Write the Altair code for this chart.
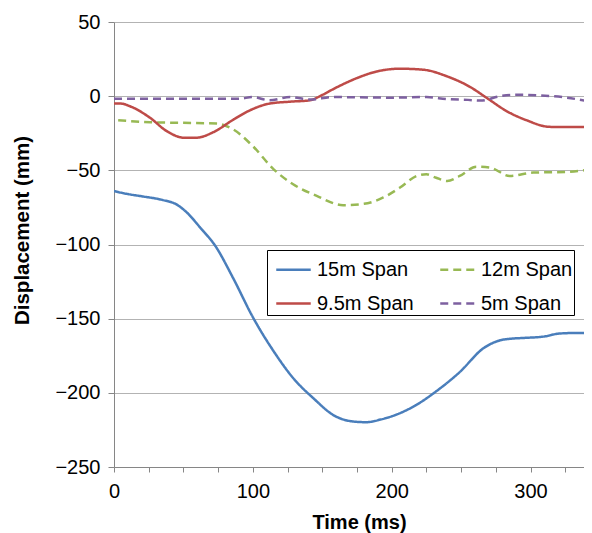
import altair as alt
import pandas as pd

series_names = ["15m Span", "9.5m Span", "12m Span", "5m Span"]
series_colors = ["#4A7EBB", "#BE4B48", "#98B954", "#7D60A0"]
series_dash = [[1, 0], [1, 0], [8, 5], [8, 5]]

t_15 = [0, 10, 20, 35, 45, 52, 62, 73, 86, 100, 115, 129, 144, 158, 172, 182, 192, 201, 210, 218, 232, 249, 266, 278, 286, 295, 310, 321, 336, 344]
d_15 = [-64, -66, -67.5, -70, -73, -78, -88.5, -101, -123, -149, -172, -190, -204, -215, -219.3, -219.8, -218, -215.5, -212, -208, -199, -186, -170, -164.6, -163.5, -163, -162, -160, -159.6, -160.7]

t_12 = [3, 26, 50, 74, 86, 100, 115, 129, 146, 165, 180, 194, 206, 218, 225, 232, 240, 249, 261, 271, 285, 302, 326, 344]
d_12 = [-16.2, -17.6, -18, -18.5, -22.5, -33.7, -49.3, -59.4, -67.2, -73.5, -72.6, -68.3, -61.6, -53.8, -52.7, -55, -57.2, -53.8, -47.5, -48.2, -53.8, -51.5, -51.1, -49.3]

t_95 = [0, 5, 11.5, 26, 38, 51, 59.6, 71.5, 86, 98, 112, 127, 141, 150, 158, 175, 189, 206, 223, 240, 256.5, 268.5, 283, 297, 314, 330, 344]
d_95 = [-5, -5, -6.8, -14.6, -23.6, -28.1, -28, -24.3, -15.8, -9.5, -5, -3.7, -2.8, 0.8, 4.8, 12.2, 16.6, 18.5, 17.8, 13.3, 6.2, -1.2, -10.2, -16.2, -20.7, -20.8, -20.7]

t_5 = [0, 30, 60, 90, 100, 112, 127, 141, 158, 177, 201, 225, 240, 255, 264, 278, 290, 307, 326, 344]
d_5 = [-1.7, -1.7, -1.7, -1.7, -0.6, -2.8, -0.6, -2.3, -0.6, -0.8, -1, -0.6, -2, -2.5, -3, 0, 1, 0.5, -1, -3.9]

x_ticks = [0, 25, 50, 75, 100, 125, 150, 175, 200, 225, 250, 275, 300, 325]
y_ticks = [50, 0, -50, -100, -150, -200, -250]

rows = []
for name, ts, ds in [("15m Span", t_15, d_15), ("12m Span", t_12, d_12),
                     ("9.5m Span", t_95, d_95), ("5m Span", t_5, d_5)]:
    for t, d in zip(ts, ds):
        rows.append({"series": name, "time": t, "disp": d})
df = pd.DataFrame(rows)

FONT = "Liberation Sans"

chart = alt.Chart(df).mark_line(strokeWidth=2.5, interpolate="monotone", clip=True).encode(
    x=alt.X("time:Q",
            scale=alt.Scale(domain=[0, 338.5], nice=False, zero=False),
            axis=alt.Axis(values=x_ticks, title="Time (ms)", grid=False,
                          labelExpr="datum.value % 100 === 0 ? datum.label : ''",
                          tickSize=5, labelPadding=9, labelFontSize=20,
                          titleFontSize=20, titleFontWeight="bold",
                          titleX=245, titleY=61, titleBaseline="alphabetic",
                          labelFlush=False)),
    y=alt.Y("disp:Q",
            scale=alt.Scale(domain=[-250, 50], nice=False, zero=False),
            axis=alt.Axis(values=y_ticks, title="Displacement (mm)", grid=True,
                          tickSize=6, labelPadding=8, labelFontSize=20,
                          titleFontSize=20.5, titleFontWeight="bold",
                          titleX=-92, titleY=208, titleBaseline="middle",
                          titleAngle=-90)),
    color=alt.Color("series:N",
                    scale=alt.Scale(domain=series_names, range=series_colors),
                    sort=series_names,
                    legend=alt.Legend(orient="none", legendX=153, legendY=228,
                                      columns=2, title=None, symbolType="stroke",
                                      symbolSize=1190, symbolStrokeWidth=2.5,
                                      labelFontSize=20, strokeColor="black",
                                      fillColor="white", padding=1,
                                      rowPadding=5, columnPadding=18,
                                      labelOffset=5, symbolOffset=7)),
    strokeDash=alt.StrokeDash("series:N",
                              scale=alt.Scale(domain=series_names, range=series_dash),
                              sort=series_names,
                              legend=alt.Legend(orient="none", legendX=153, legendY=228,
                                                columns=2, title=None)),
    detail="series:N",
).properties(
    width=470,
    height=445,
    autosize=alt.AutoSizeParams(type="none"),
    padding={"left": 106, "top": 14, "right": 0, "bottom": 66},
).configure_view(
    stroke=None
).configure_axis(
    labelFont=FONT, titleFont=FONT, labelColor="black", titleColor="black",
    domainColor="#868686", tickColor="#868686", gridColor="#B3B3B3",
    domainWidth=1, tickWidth=1, gridWidth=1
).configure_legend(
    labelFont=FONT, labelColor="black"
)

chart.save("out.html", embed_options={"renderer": "svg", "actions": False})
